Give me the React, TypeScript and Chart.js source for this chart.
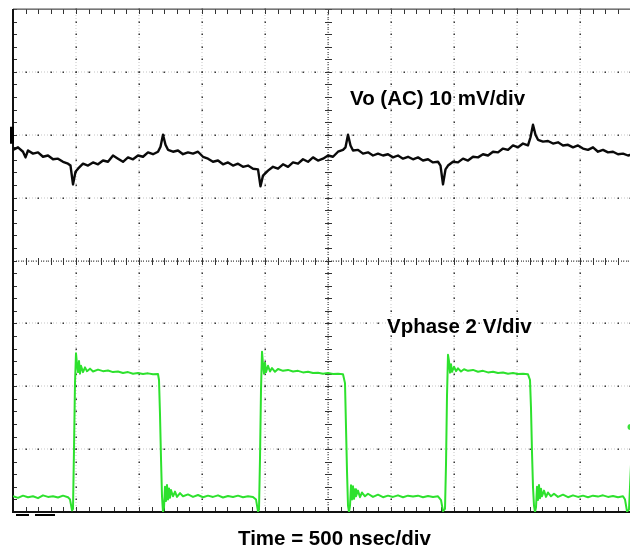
import React, { useEffect, useRef } from "react";
import { Chart, registerables } from "chart.js";

Chart.register(...registerables);

// ---- Data ----
// Time axis: 10 divisions, ~500 ns/div
const timeMinNs = 0;
const timeMaxNs = 5040;

// Vo (AC coupled), 10 mV/div  (0 mV = channel marker on the left)
const voTimeNs = [
  0, 40, 80, 100, 120, 160, 200, 240, 280, 320, 360, 400, 440, 460, 480, 500, 520, 560, 600, 640,
  680, 720, 760, 800, 840, 880, 920, 960, 1000, 1040, 1080, 1120, 1160, 1180, 1200, 1220, 1240, 1280, 1320, 1360,
  1400, 1440, 1480, 1520, 1560, 1600, 1640, 1680, 1720, 1760, 1800, 1840, 1880, 1920, 1960, 1980, 2000, 2040, 2080, 2120,
  2160, 2200, 2240, 2280, 2320, 2360, 2400, 2440, 2480, 2520, 2560, 2600, 2640, 2660, 2680, 2700, 2720, 2760, 2800, 2840,
  2880, 2920, 2960, 3000, 3040, 3080, 3120, 3160, 3200, 3240, 3280, 3320, 3360, 3400, 3420, 3440, 3460, 3480, 3520, 3560,
  3600, 3640, 3680, 3720, 3760, 3800, 3840, 3880, 3920, 3960, 4000, 4040, 4080, 4120, 4140, 4160, 4180, 4200, 4240, 4280,
  4320, 4360, 4400, 4440, 4480, 4520, 4560, 4600, 4640, 4680, 4720, 4760, 4800, 4840, 4880, 4920, 4960, 5000, 5040,
];
const voMillivolts = [
  -2.4, -2.0, -2.7, -3.6, -2.5, -3.0, -2.8, -3.5, -3.3, -3.9, -3.8, -4.3, -4.6, -4.9, -7.9, -5.9, -5.4, -4.6, -4.9, -4.4,
  -4.7, -4.1, -4.3, -3.3, -3.8, -4.3, -3.6, -3.9, -3.3, -3.5, -2.8, -3.1, -2.7, -1.9, 0.0, -1.6, -2.4, -2.7, -2.5, -3.1,
  -2.8, -3.0, -2.7, -3.5, -3.8, -4.3, -4.1, -4.7, -4.4, -4.9, -4.6, -5.1, -4.9, -5.4, -5.5, -8.2, -6.5, -5.7, -5.1, -5.4,
  -4.7, -5.1, -4.4, -4.6, -3.9, -4.3, -3.6, -4.1, -3.8, -3.3, -3.5, -2.7, -2.4, -2.0, 0.0, -1.7, -2.5, -2.4, -3.0, -2.8,
  -3.3, -3.0, -3.3, -3.1, -3.6, -3.3, -3.8, -3.5, -3.9, -3.6, -4.1, -3.9, -4.4, -4.3, -4.9, -7.9, -5.5, -4.9, -4.3, -4.4,
  -3.8, -4.1, -3.5, -3.6, -3.1, -3.3, -2.7, -2.8, -2.2, -2.4, -1.7, -2.0, -1.4, -1.7, -0.4, 1.6, 0.0, -0.8, -1.1, -1.0,
  -1.4, -1.2, -1.7, -1.6, -2.0, -1.7, -2.2, -2.4, -2.0, -2.7, -2.4, -2.8, -2.7, -3.1, -3.0, -3.3, -3.1, -3.5, -3.4,
];

// Vphase, 2 V/div
const phaseTimeNs = [
  0, 40, 80, 120, 160, 200, 240, 280, 320, 360, 400, 440, 456, 472, 480, 488, 496, 504, 512, 520,
  528, 536, 544, 560, 576, 592, 616, 640, 680, 720, 760, 800, 840, 880, 920, 960, 1000, 1040, 1080, 1120,
  1160, 1168, 1176, 1184, 1192, 1200, 1208, 1216, 1224, 1232, 1240, 1248, 1256, 1264, 1280, 1296, 1312, 1336, 1360, 1400,
  1440, 1480, 1520, 1560, 1600, 1640, 1680, 1720, 1760, 1800, 1840, 1880, 1920, 1944, 1960, 1968, 1976, 1984, 1992, 2000,
  2008, 2016, 2024, 2040, 2056, 2072, 2096, 2120, 2160, 2200, 2240, 2280, 2320, 2360, 2400, 2440, 2480, 2520, 2560, 2600,
  2640, 2656, 2664, 2672, 2680, 2688, 2696, 2704, 2712, 2720, 2728, 2736, 2744, 2760, 2776, 2792, 2816, 2840, 2880, 2920,
  2960, 3000, 3040, 3080, 3120, 3160, 3200, 3240, 3280, 3320, 3360, 3400, 3424, 3440, 3456, 3464, 3472, 3480, 3488, 3496,
  3504, 3512, 3528, 3544, 3560, 3584, 3608, 3640, 3680, 3720, 3760, 3800, 3840, 3880, 3920, 3960, 4000, 4040, 4080, 4120,
  4136, 4144, 4152, 4160, 4168, 4176, 4184, 4192, 4200, 4208, 4216, 4224, 4232, 4248, 4264, 4280, 4304, 4328, 4360, 4400,
  4440, 4480, 4520, 4560, 4600, 4640, 4680, 4720, 4760, 4800, 4840, 4880, 4896, 4912, 4928, 4944, 4960, 4976, 4992, 5040,
];
const phaseVolts = [
  0.0, -0.05, 0.02, -0.03, 0.0, -0.06, 0.03, -0.02, 0.0, -0.04, 0.02, -0.03, -0.1, -0.45, -0.4, 1.5, 3.6, 4.55, 4.2, 3.95,
  4.3, 3.9, 4.15, 3.95, 4.1, 3.98, 4.06, 3.97, 4.03, 3.98, 4.0, 3.95, 3.97, 3.92, 3.95, 3.9, 3.92, 3.89, 3.91, 3.88,
  3.89, 3.7, 2.6, 1.2, 0.0, -0.5, -0.35, 0.3, -0.15, 0.36, -0.1, 0.25, -0.05, 0.2, 0.0, 0.15, -0.02, 0.1, 0.0, 0.06,
  -0.02, 0.04, -0.03, 0.02, -0.02, 0.03, -0.04, 0.01, -0.02, 0.02, -0.03, 0.0, -0.02, -0.1, -0.48, -0.42, 1.2, 3.4, 4.6, 4.2,
  3.9, 4.25, 3.95, 4.15, 3.97, 4.08, 3.96, 4.05, 3.99, 4.02, 3.97, 3.99, 3.94, 3.96, 3.92, 3.93, 3.9, 3.92, 3.89, 3.9,
  3.88, 3.6, 2.2, 0.8, -0.3, -0.5, -0.3, 0.35, -0.1, 0.32, -0.08, 0.22, 0.0, 0.18, -0.03, 0.12, 0.0, 0.08, -0.02, 0.05,
  -0.03, 0.02, -0.02, 0.03, -0.03, 0.02, -0.01, 0.02, -0.03, 0.01, -0.02, 0.0, -0.12, -0.47, -0.4, 1.0, 3.2, 4.5, 4.3, 3.93,
  4.2, 3.96, 4.12, 3.98, 4.07, 3.97, 4.04, 3.99, 4.02, 3.96, 3.99, 3.94, 3.96, 3.92, 3.94, 3.9, 3.92, 3.89, 3.9, 3.88,
  3.7, 2.8, 1.4, 0.3, -0.3, -0.5, -0.35, 0.3, -0.12, 0.36, -0.06, 0.24, 0.0, 0.18, -0.02, 0.12, 0.0, 0.08, -0.02, 0.05,
  -0.03, 0.03, -0.02, 0.02, -0.03, 0.02, -0.01, 0.03, -0.02, 0.01, -0.03, 0.0, -0.1, -0.48, -0.42, 1.0, 3.4, 4.5, 4.2, 3.95,
];

const voAxisMin = -60;
const voAxisMax = 20;
const phaseAxisMin = -0.5;
const phaseAxisMax = 15.5;

const labelVo = "Vo (AC) 10 mV/div";
const labelPhase = "Vphase 2 V/div";
const labelTime = "Time = 500 nsec/div";

const CANVAS_W = 650;
const CANVAS_H = 548;

const scopePlugin = {
  id: "scopeGrid",
  beforeDatasetsDraw(chart: any) {
    const { ctx, chartArea: a } = chart;
    const w = a.right - a.left;
    const h = a.bottom - a.top;
    const dx = w / 10;
    const dy = h / 8;
    const cx = a.left + dx * 5;
    const cy = a.top + dy * 4;
    ctx.save();
    // faint fuzz along major lines
    ctx.fillStyle = "#e2e2e2";
    for (let i = 1; i < 10; i++) {
      const x = Math.round(a.left + i * dx);
      for (let y = a.top; y <= a.bottom; y += 3.1) ctx.fillRect(x - 1, Math.round(y), 2, 1);
    }
    for (let k = 1; k < 8; k++) {
      const y = Math.round(a.top + k * dy);
      for (let x = a.left; x <= a.right; x += 3.1) ctx.fillRect(Math.round(x), y - 1, 1, 2);
    }
    // dark dots at each minor division
    ctx.fillStyle = "#3a3a3a";
    for (let i = 1; i < 10; i++) {
      if (i === 5) continue;
      const x = Math.round(a.left + i * dx);
      for (let j = 0; j <= 40; j++) {
        const y = Math.round(a.top + (j * h) / 40);
        ctx.fillRect(x - 0.5, y - 0.5, 1.5, 1.5);
      }
    }
    for (let k = 1; k < 8; k++) {
      if (k === 4) continue;
      const y = Math.round(a.top + k * dy);
      for (let m = 0; m <= 50; m++) {
        const x = Math.round(a.left + (m * w) / 50);
        ctx.fillRect(x - 0.5, y - 0.5, 1.5, 1.5);
      }
    }
    // center cross: dense dots + tick marks
    const xc = Math.round(cx);
    const yc = Math.round(cy);
    ctx.fillStyle = "#555";
    for (let y = a.top; y <= a.bottom; y += 2.5) ctx.fillRect(xc - 0.5, Math.round(y), 1.3, 1);
    for (let x = a.left; x <= a.right; x += 2.5) ctx.fillRect(Math.round(x), yc - 0.5, 1, 1.3);
    ctx.fillStyle = "#333";
    for (let j = 0; j <= 40; j++) {
      const y = Math.round(a.top + (j * h) / 40);
      ctx.fillRect(xc - 3, y, 7, 1);
    }
    for (let m = 0; m <= 50; m++) {
      const x = Math.round(a.left + (m * w) / 50);
      ctx.fillRect(x, yc - 3, 1, 7);
    }
    // border ticks
    ctx.fillStyle = "#333";
    for (let j = 0; j <= 40; j++) {
      const y = Math.round(a.top + (j * h) / 40);
      ctx.fillRect(a.left, y, 4, 1);
    }
    for (let m = 0; m <= 50; m++) {
      const x = Math.round(a.left + (m * w) / 50);
      ctx.fillRect(x, a.top, 1, 5);
      ctx.fillRect(x, a.bottom - 5, 1, 5);
    }
    // borders
    ctx.fillStyle = "#555";
    ctx.fillRect(a.left, a.top - 0.5, w, 1.3);
    ctx.fillStyle = "#111";
    ctx.fillRect(a.left - 1, a.top, 2, h + 1);
    ctx.fillRect(a.left - 1, a.bottom - 1, w + 1, 2);
    ctx.restore();
  },
  afterDatasetsDraw(chart: any) {
    const { ctx, chartArea: a, scales } = chart;
    ctx.save();
    // channel 1 ground marker
    const y0 = scales.yVo.getPixelForValue(0);
    ctx.fillStyle = "#000";
    ctx.fillRect(a.left - 3, y0 - 8, 4, 17);
    // trigger marks below the bottom border
    ctx.fillRect(a.left + 3, a.bottom + 2, 13, 2);
    ctx.fillRect(a.left + 22, a.bottom + 2, 20, 2);
    // channel 2 marker at the right edge
    ctx.fillStyle = "rgb(60,225,60)";
    ctx.beginPath();
    ctx.arc(scales.x.getPixelForValue(4940), scales.yPh.getPixelForValue(2.2), 3, 0, Math.PI * 2);
    ctx.fill();
    // labels
    ctx.fillStyle = "#000";
    ctx.font = 'bold 20.5px "Liberation Sans", Arial, sans-serif';
    ctx.textBaseline = "alphabetic";
    ctx.textAlign = "left";
    ctx.fillText(labelVo, 350, 105);
    ctx.fillText(labelPhase, 387, 333);
    ctx.fillText(labelTime, 238, 545);
    ctx.restore();
  },
};

export default function App() {
  const canvasRef = useRef<HTMLCanvasElement | null>(null);

  useEffect(() => {
    const canvas = canvasRef.current;
    if (!canvas) return;
    const chart = new Chart(canvas, {
      type: "line",
      data: {
        datasets: [
          {
            label: "Vo (AC)",
            data: voTimeNs.map((t, i) => ({ x: t, y: voMillivolts[i] })),
            yAxisID: "yVo",
            borderColor: "#0a0a0a",
            borderWidth: 2.4,
            pointRadius: 0,
            tension: 0,
            borderJoinStyle: "round",
          },
          {
            label: "Vphase",
            data: phaseTimeNs.map((t, i) => ({ x: t, y: phaseVolts[i] })),
            yAxisID: "yPh",
            borderColor: "rgb(45,225,45)",
            borderWidth: 2,
            pointRadius: 0,
            tension: 0,
            borderJoinStyle: "round",
          },
        ],
      },
      options: {
        responsive: false,
        animation: false,
        devicePixelRatio: 1,
        layout: { padding: { left: 13, top: 9, right: 7, bottom: 36 } },
        plugins: { legend: { display: false }, tooltip: { enabled: false }, title: { display: false } },
        scales: {
          x: { type: "linear", min: timeMinNs, max: timeMaxNs, display: false },
          yVo: { type: "linear", min: voAxisMin, max: voAxisMax, display: false },
          yPh: { type: "linear", min: phaseAxisMin, max: phaseAxisMax, display: false },
        },
      },
      plugins: [scopePlugin],
    } as any);
    return () => chart.destroy();
  }, []);

  return (
    <div
      style={{
        position: "fixed",
        left: 0,
        top: 0,
        width: 630,
        height: 548,
        overflow: "hidden",
        background: "#fff",
      }}
    >
      <canvas ref={canvasRef} width={CANVAS_W} height={CANVAS_H} style={{ display: "block" }} />
    </div>
  );
}
